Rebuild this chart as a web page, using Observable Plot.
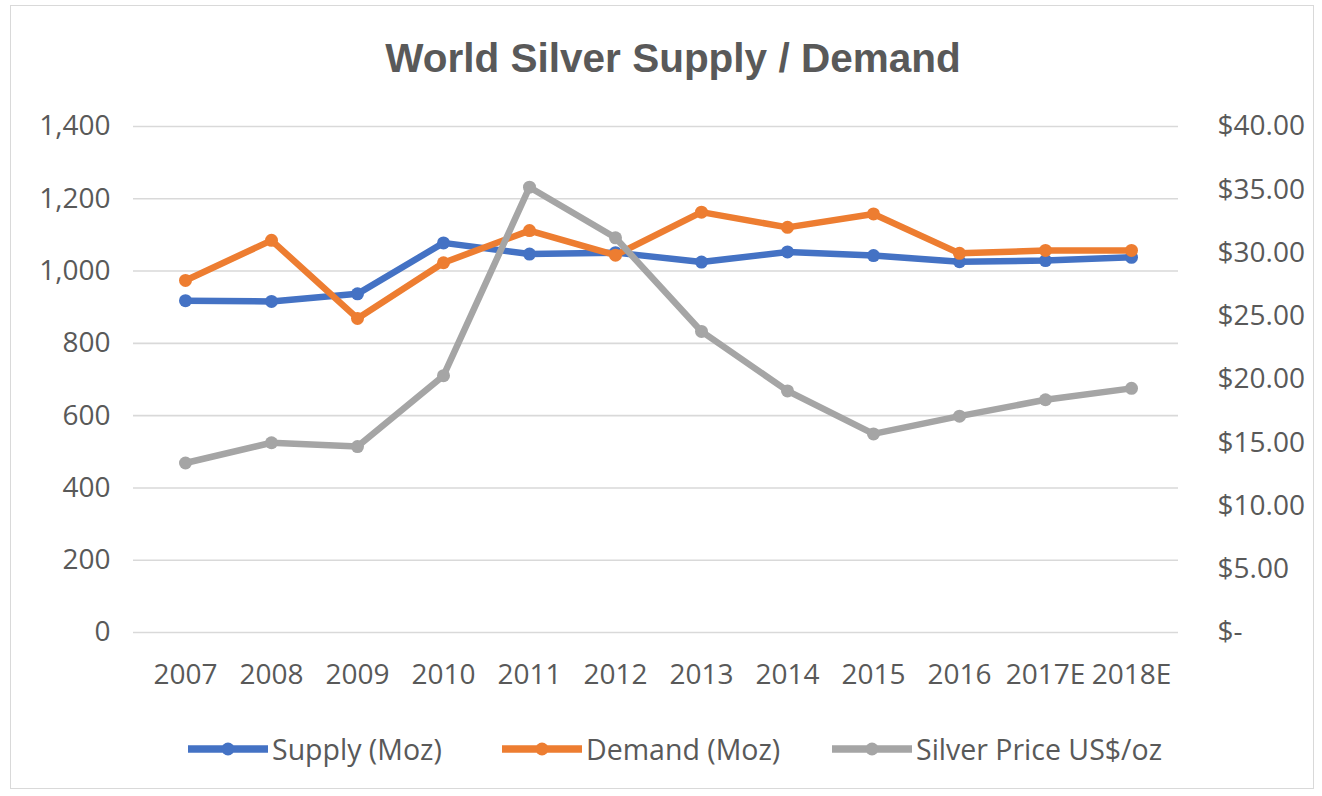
<!DOCTYPE html>
<html>
<head>
<meta charset="utf-8">
<script src="https://cdn.jsdelivr.net/npm/d3@7"></script>
<script src="https://cdn.jsdelivr.net/npm/@observablehq/plot@0.6"></script>
<style>
  html, body { margin: 0; padding: 0; background: #fff; }
  #wrap { position: relative; width: 1322px; height: 796px; overflow: hidden; }
  #frame { position: absolute; left: 10px; top: 5px; width: 1304px; height: 784px; border: 1.5px solid #d9d9d9; box-sizing: border-box; }
  #title { position: absolute; left: 0; width: 1346px; top: 38px; text-align: center; font-family: "Liberation Sans", Arial, sans-serif; font-weight: bold; font-size: 40.5px; line-height: 40.5px; color: #595959; }
  #chart { position: absolute; left: 0; top: 100px; }
  #legend { position: absolute; left: 0; top: 729px; width: 1322px; height: 40px; font-family: "Open Sans", sans-serif; font-size: 28.5px; color: #595959; }
  .item { position: absolute; top: 0; height: 40px; display: flex; align-items: center; }
  .item svg { display: block; }
  .item span { margin-left: 4px; white-space: nowrap; }
</style>
</head>
<body>
<div id="wrap">
  <div id="frame"></div>
  <div id="title">World Silver Supply / Demand</div>
  <div id="chart"></div>
  <div id="legend"></div>
</div>
<script>
// ---- data ----
const years = ["2007", "2008", "2009", "2010", "2011", "2012", "2013", "2014", "2015", "2016", "2017E", "2018E"];
const supply = [918, 916, 937, 1078, 1047, 1051, 1025, 1053, 1043, 1026, 1029, 1038];
const demand = [974, 1085, 869, 1023, 1112, 1044, 1163, 1121, 1158, 1049, 1057, 1057];
const price = [13.4, 15.0, 14.7, 20.3, 35.2, 31.2, 23.8, 19.1, 15.7, 17.1, 18.4, 19.3];
const leftTicks = [0, 200, 400, 600, 800, 1000, 1200, 1400];
const rightTicks = [0, 5, 10, 15, 20, 25, 30, 35, 40];
const seriesNames = ["Supply (Moz)", "Demand (Moz)", "Silver Price US$/oz"];
const colors = ["#4472C4", "#ED7D31", "#A5A5A5"];

// secondary axis maps 0..40 $ onto 0..1400 of the primary axis
const leftMax = 1400, rightMax = 40, k = leftMax / rightMax;

const supplyRows = years.map((y, i) => ({year: y, value: supply[i]}));
const demandRows = years.map((y, i) => ({year: y, value: demand[i]}));
const priceRows = years.map((y, i) => ({year: y, value: price[i] * k}));

const money = v => {
  const p = v / k;
  return p === 0 ? "$-" : "$" + d3.format(",.2f")(p);
};

const lw = 6.5, r = 6.5;
const chart = Plot.plot({
  width: 1322,
  height: 600,
  marginTop: 26,
  marginBottom: 68,
  marginLeft: 138,
  marginRight: 144,
  style: {fontFamily: "'Open Sans', sans-serif", fontSize: "28px", color: "#595959", background: "transparent", overflow: "visible"},
  x: {type: "point", domain: years, padding: 0.5},
  y: {domain: [0, leftMax]},
  marks: [
    Plot.ruleY(leftTicks, {stroke: "#d9d9d9", strokeWidth: 1.6, insetLeft: -5}),
    Plot.axisY(leftTicks, {anchor: "left", tickSize: 0, tickPadding: 28, tickFormat: d3.format(","), label: null, fill: "#595959"}),
    Plot.axisY(rightTicks.map(t => t * k), {anchor: "right", tickSize: 0, tickPadding: 39, tickFormat: money, label: null, fill: "#595959"}),
    Plot.axisX({tickSize: 0, tickPadding: 32, label: null, fill: "#595959"}),
    Plot.line(supplyRows, {x: "year", y: "value", stroke: colors[0], strokeWidth: lw}),
    Plot.dot(supplyRows, {x: "year", y: "value", r, fill: colors[0]}),
    Plot.line(demandRows, {x: "year", y: "value", stroke: colors[1], strokeWidth: lw}),
    Plot.dot(demandRows, {x: "year", y: "value", r, fill: colors[1]}),
    Plot.line(priceRows, {x: "year", y: "value", stroke: colors[2], strokeWidth: lw}),
    Plot.dot(priceRows, {x: "year", y: "value", r, fill: colors[2]})
  ]
});
document.getElementById("chart").appendChild(chart);

// ---- legend ----
const legendLefts = [188, 502, 832];
const legend = document.getElementById("legend");
seriesNames.forEach((name, i) => {
  const div = document.createElement("div");
  div.className = "item";
  div.style.left = legendLefts[i] + "px";
  div.innerHTML = `<svg width="80" height="20"><line x1="0" x2="80" y1="10" y2="10" stroke="${colors[i]}" stroke-width="7.5"/><circle cx="40" cy="10" r="6.5" fill="${colors[i]}"/></svg><span>${name}</span>`;
  legend.appendChild(div);
});
</script>
</body>
</html>
